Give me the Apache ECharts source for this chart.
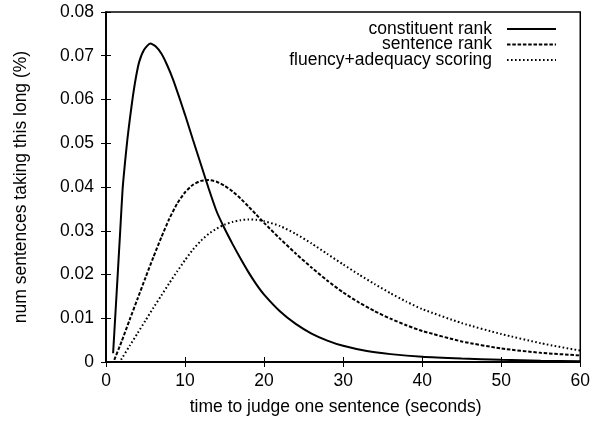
<!DOCTYPE html>
<html>
<head>
<meta charset="utf-8">
<script src="https://cdn.jsdelivr.net/npm/echarts@6/dist/echarts.min.js"></script>
<style>
html,body{margin:0;padding:0;background:#fff;}
#chart{width:593px;height:423px;}
</style>
</head>
<body>
<div id="chart"></div>
<script>
var seriesNames = ['constituent rank', 'sentence rank', 'fluency+adequacy scoring'];

var conX = [0.9, 1.2, 1.5, 1.8, 2.1, 2.4, 2.7, 3.0, 3.4, 3.8, 4.2, 4.8, 5.6, 6.3, 7.0, 7.7, 8.5, 9.3, 10, 11, 12, 13, 14, 15, 16, 17, 18, 19, 20, 22, 24, 26, 28, 30, 33, 36, 40, 45, 50, 55, 60];
var conY = [0.002, 0.0113, 0.0206, 0.030, 0.0395, 0.0455, 0.0508, 0.0553, 0.0607, 0.0652, 0.0686, 0.0713, 0.0728, 0.0721, 0.0705, 0.0680, 0.0645, 0.0603, 0.0565, 0.0508, 0.0452, 0.0396, 0.0344, 0.0305, 0.0270, 0.0237, 0.0206, 0.0178, 0.0154, 0.0116, 0.0087, 0.0065, 0.0049, 0.0037, 0.0025, 0.0018, 0.0012, 0.0008, 0.0005, 0.0003, 0.0002];

var senX = [1.05, 2, 3, 4, 5, 6, 7, 8, 9, 10, 11, 12, 13, 14, 15, 16, 17, 18, 19, 20, 22, 24, 26, 28, 30, 32, 34, 36, 38, 40, 45, 50, 55, 60];
var senY = [0.0005, 0.0048, 0.0097, 0.0145, 0.0193, 0.0240, 0.0285, 0.0327, 0.0362, 0.0388, 0.0405, 0.0414, 0.0416, 0.0412, 0.0403, 0.0390, 0.0374, 0.0356, 0.0337, 0.0318, 0.0282, 0.0248, 0.0216, 0.0186, 0.0159, 0.0136, 0.0116, 0.0099, 0.0084, 0.0071, 0.0047, 0.0031, 0.0021, 0.0015];

var fluX = [1.9, 3, 4, 5, 6, 7, 8, 9, 10, 11, 12, 13, 14, 15, 16, 17, 18, 19, 20, 22, 24, 26, 28, 30, 32, 34, 36, 38, 40, 45, 50, 55, 60];
var fluY = [0.0005, 0.0037, 0.0066, 0.0095, 0.0124, 0.0152, 0.0180, 0.0207, 0.0233, 0.0257, 0.0277, 0.0293, 0.0305, 0.0314, 0.0320, 0.0324, 0.0326, 0.0325, 0.0322, 0.0311, 0.0293, 0.0271, 0.0247, 0.0223, 0.0200, 0.0178, 0.0157, 0.0138, 0.0121, 0.0089, 0.0064, 0.0043, 0.0026];

function pairs(xs, ys) { return xs.map(function (x, i) { return [x, ys[i]]; }); }

var FONT = 'Liberation Sans, Arial, Helvetica, sans-serif';
var FS = 17.5;

var chart = echarts.init(document.getElementById('chart'), null, {renderer: 'canvas'});

function lineSeries(name, data, type) {
  return {
    name: name, type: 'line', data: data, xAxisIndex: 0, yAxisIndex: 0,
    symbol: 'none', smooth: 0.2, animation: false,
    lineStyle: {color: '#000', width: 2, type: type, cap: 'butt'},
    itemStyle: {color: '#000'}
  };
}

var option = {
  animation: false,
  backgroundColor: '#fff',
  grid: {left: 106, right: 12, top: 12, bottom: 61, show: true, borderColor: '#000', borderWidth: 1.5, containLabel: false},
  legend: {
    orient: 'vertical', right: 36, top: 20, padding: 0, align: 'right',
    itemWidth: 49, itemHeight: 14, itemGap: -2.5,
    itemStyle: {opacity: 0, borderWidth: 0},
    textStyle: {fontFamily: FONT, fontSize: FS, color: '#000', lineHeight: 16, padding: [0, 10, 0, 0]},
    data: seriesNames
  },
  xAxis: [{
    type: 'value', min: 0, max: 60, interval: 10, position: 'bottom',
    name: 'time to judge one sentence (seconds)', nameLocation: 'middle', nameGap: 36,
    nameTextStyle: {fontFamily: FONT, fontSize: FS, color: '#000', padding: [0, 15, 0, 0]},
    axisLine: {show: true, lineStyle: {color: '#000', width: 1.5}},
    axisTick: {show: true, inside: true, length: 5, lineStyle: {color: '#000', width: 1}},
    axisLabel: {fontFamily: FONT, fontSize: FS, color: '#000', margin: 10},
    splitLine: {show: false}
  }, {
    type: 'value', min: 0, max: 60, interval: 10, position: 'top',
    axisLine: {show: true, lineStyle: {color: '#000', width: 1.5}},
    axisTick: {show: true, inside: true, length: 5, lineStyle: {color: '#000', width: 1}},
    axisLabel: {show: false}, splitLine: {show: false}
  }],
  yAxis: [{
    type: 'value', min: 0, max: 0.08, interval: 0.01, position: 'left',
    name: 'num sentences taking this long (%)', nameLocation: 'middle', nameGap: 76, nameRotate: 90,
    nameTextStyle: {fontFamily: FONT, fontSize: FS, color: '#000'},
    axisLine: {show: true, lineStyle: {color: '#000', width: 1.5}},
    axisTick: {show: true, inside: true, length: 5, lineStyle: {color: '#000', width: 1}},
    axisLabel: {fontFamily: FONT, fontSize: FS, color: '#000', margin: 12},
    splitLine: {show: false}
  }, {
    type: 'value', min: 0, max: 0.08, interval: 0.01, position: 'right',
    axisLine: {show: true, lineStyle: {color: '#000', width: 1.5}},
    axisTick: {show: true, inside: true, length: 5, lineStyle: {color: '#000', width: 1}},
    axisLabel: {show: false}, splitLine: {show: false}
  }],
  series: [
    lineSeries(seriesNames[0], pairs(conX, conY), 'solid'),
    lineSeries(seriesNames[1], pairs(senX, senY), [3.5, 1.8]),
    lineSeries(seriesNames[2], pairs(fluX, fluY), [1.6, 2.4])
  ]
};
chart.setOption(option);
</script>
</body>
</html>
